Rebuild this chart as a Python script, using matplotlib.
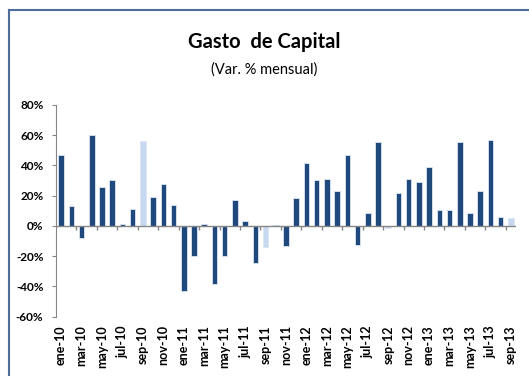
import numpy as np
import matplotlib.pyplot as plt
from matplotlib.lines import Line2D

plt.rcParams['font.family'] = ['Lato', 'DejaVu Sans']

meses = ['ene', 'feb', 'mar', 'abr', 'may', 'jun',
         'jul', 'ago', 'sep', 'oct', 'nov', 'dic']
periodos = [f'{m}-{a}' for a in ('10', '11', '12') for m in meses] + \
           [f'{m}-13' for m in meses[:9]]

# variacion % mensual
var_mensual = [47, 13, -8, 60.4, 25.6, 30.4, 1.3, 11.2, 56.4, 19.4, 27.6, 13.9,
               -43, -20, 1, -38.1, -19.8, 17.2, 3.3, -24.5, -14.1, 0.9, -13, 18.5,
               41.9, 30.2, 31.3, 23.4, 46.7, -12.8, 8.8, 55.6, -1.5, 21.8, 31.1, 29.1,
               39.2, 10.4, 10.6, 55.6, 8.6, 23.1, 57.1, 6, 5.5]

oscuro = '#1F497D'
claro = '#C6D9F1'
colores = [claro if p.startswith('sep') else oscuro for p in periodos]

fig = plt.figure(figsize=(5.29, 3.76), dpi=100)
ax = fig.add_axes([56 / 529, 1 - 316.7 / 376, 460 / 529, 211.7 / 376])

x = np.arange(len(periodos))
ax.bar(x, var_mensual, width=0.55, color=colores, edgecolor='#DCE6F2', linewidth=0.6, zorder=3)

ax.set_xlim(-0.5, len(periodos) - 0.5)
ax.set_ylim(-60, 80)
ax.set_yticks(np.arange(-60, 81, 20))
ax.set_yticklabels([f'{v}%' for v in range(-60, 81, 20)], fontsize=8.5, fontweight='bold')
ax.tick_params(axis='y', length=3, color='#868686', pad=6)

ax.set_xticks(x[::2])
ax.set_xticklabels(periodos[::2], rotation=90, fontsize=9, fontweight='bold')
ax.tick_params(axis='x', length=0, pad=6)

for s in ['top', 'right', 'bottom']:
    ax.spines[s].set_visible(False)
ax.spines['left'].set_color('#868686')

# eje en cero con marcas cada dos meses
ax.axhline(0, color='#868686', lw=1, zorder=4)
ax.vlines(np.arange(1.5, len(periodos), 2), -2.6, 0, color='#868686', lw=1, zorder=4)

fig.text(0.5, 1 - 42 / 376, 'Gasto  de Capital', ha='center', va='center',
         fontsize=14.5, fontweight='bold')
fig.text(0.5, 1 - 70 / 376, '(Var. % mensual)', ha='center', va='center', fontsize=10.5)

# marco
fig.add_artist(Line2D([8.5 / 529, 1], [1 - 9.5 / 376] * 2, color='#4F6D9A', lw=1.5))
fig.add_artist(Line2D([8.5 / 529] * 2, [0, 1 - 9.5 / 376], color='#4F6D9A', lw=1.5))

fig.savefig('out.png', dpi=100)
